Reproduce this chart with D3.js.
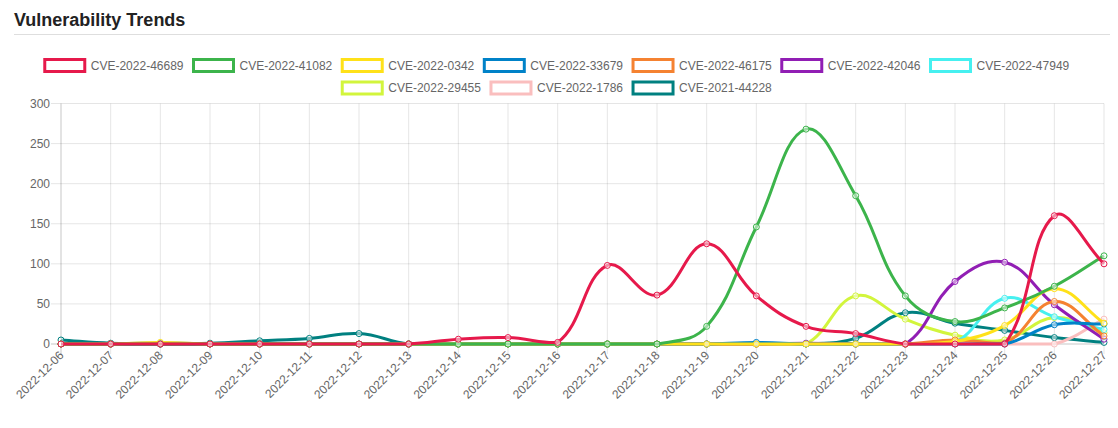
<!DOCTYPE html>
<html>
<head>
<meta charset="utf-8">
<script src="https://cdn.jsdelivr.net/npm/d3@7/dist/d3.min.js"></script>
<style>
  html, body { margin: 0; padding: 0; background: #fff; }
  svg { display: block; }
</style>
</head>
<body>
<svg id="chart" width="1118" height="428"></svg>
<script>
// ---------- DATA ----------
const dates = ["2022-12-06","2022-12-07","2022-12-08","2022-12-09","2022-12-10","2022-12-11","2022-12-12","2022-12-13","2022-12-14","2022-12-15","2022-12-16","2022-12-17","2022-12-18","2022-12-19","2022-12-20","2022-12-21","2022-12-22","2022-12-23","2022-12-24","2022-12-25","2022-12-26","2022-12-27"];
const seriesNames = ["CVE-2022-46689","CVE-2022-41082","CVE-2022-0342","CVE-2022-33679","CVE-2022-46175","CVE-2022-42046","CVE-2022-47949","CVE-2022-29455","CVE-2022-1786","CVE-2021-44228"];
const seriesColors = ["#e6194b","#3cb44b","#ffe119","#0082c8","#f58231","#911eb4","#46f0f0","#d2f53c","#fabebe","#008080"];
const cve_2022_46689 = [0,0,0,0,0,0,0,0,6,8,2,98,61,125,60,22,13,0,0,0,160,100];
const cve_2022_41082 = [0,0,0,0,0,0,0,0,0,0,0,0,0,22,146,268,185,60,28,45,72,110];
const cve_2022_0342  = [0,0,2,0,0,0,0,0,0,0,0,0,0,0,0,0,0,0,3,23,69,26];
const cve_2022_33679 = [0,0,0,0,0,0,0,0,0,0,0,0,0,0,2,0,0,0,0,0,24,25];
const cve_2022_46175 = [0,0,0,0,0,0,0,0,0,0,0,0,0,0,0,0,0,0,5,1,53,10];
const cve_2022_42046 = [0,0,0,0,0,0,0,0,0,0,0,0,0,0,0,1,0,0,78,102,49,6];
const cve_2022_47949 = [0,0,0,0,0,0,0,0,0,0,0,0,0,0,0,0,0,0,2,57,34,18];
const cve_2022_29455 = [0,0,0,0,0,0,0,0,0,0,0,0,0,0,0,0,60,31,11,5,33,14];
const cve_2022_1786  = [0,0,0,0,0,0,0,0,0,0,0,0,0,0,0,0,0,0,0,0,0,31];
const cve_2021_44228 = [5,1,1,1,4,7,13,0,0,0,0,0,0,0,0,0,7,39,26,17,8,2];
const seriesValues = [cve_2022_46689,cve_2022_41082,cve_2022_0342,cve_2022_33679,cve_2022_46175,cve_2022_42046,cve_2022_47949,cve_2022_29455,cve_2022_1786,cve_2021_44228];
const yTicks = [0,50,100,150,200,250,300];
const titleText = "Vulnerability Trends";

// ---------- LAYOUT ----------
const FONT = "'Helvetica Neue', Helvetica, Arial, 'Liberation Sans', sans-serif";
const svg = d3.select("#chart");
const area = { left: 61, right: 1104, top: 103.5, bottom: 344 };

const x = d3.scalePoint().domain(dates).range([area.left, area.right]);
const y = d3.scaleLinear().domain([0, 300]).range([area.bottom, area.top]);

// Title + divider
svg.append("text")
  .attr("x", 14).attr("y", 25.5)
  .attr("font-family", FONT).attr("font-weight", "bold").attr("font-size", 18)
  .attr("fill", "#222").text(titleText);
svg.append("line")
  .attr("x1", 14).attr("x2", 1110).attr("y1", 34.5).attr("y2", 34.5)
  .attr("stroke", "#dedede").attr("stroke-width", 1);

// ---------- LEGEND ----------
const legend = svg.append("g").attr("font-family", FONT).attr("font-size", 12);
const items = seriesNames.map((name, i) => {
  const g = legend.append("g");
  g.append("rect").attr("width", 40).attr("height", 12)
    .attr("fill", "#fff").attr("stroke", seriesColors[i]).attr("stroke-width", 3);
  const t = g.append("text").attr("x", 46).attr("y", 6).attr("dy", "0.35em")
    .attr("fill", "#666").text(name);
  const w = 46 + t.node().getComputedTextLength();
  return { g, w };
});
const maxW = 1080, pad = 10;
const rows = [[]];
let cur = 0;
items.forEach(it => {
  if (cur + it.w + pad > maxW && rows[rows.length - 1].length) { rows.push([]); cur = 0; }
  rows[rows.length - 1].push(it); cur += it.w + pad;
});
const legendCenter = 557;
rows.forEach((row, r) => {
  const total = d3.sum(row, d => d.w) + pad * (row.length - 1);
  let lx = legendCenter - total / 2;
  row.forEach(it => {
    it.g.attr("transform", `translate(${lx},${59.5 + r * 22.5})`);
    lx += it.w + pad;
  });
});

// ---------- GRID & AXES ----------
const grid = svg.append("g");
yTicks.forEach(v => {
  grid.append("line")
    .attr("x1", area.left - 10).attr("x2", area.right)
    .attr("y1", y(v)).attr("y2", y(v))
    .attr("stroke", v === 0 ? "rgba(0,0,0,0.22)" : "rgba(0,0,0,0.1)").attr("stroke-width", 1);
});
dates.forEach((d, i) => {
  grid.append("line")
    .attr("x1", x(d)).attr("x2", x(d))
    .attr("y1", area.top).attr("y2", area.bottom + 10)
    .attr("stroke", i === 0 ? "rgba(0,0,0,0.22)" : "rgba(0,0,0,0.1)").attr("stroke-width", 1);
});

const yAxis = d3.axisLeft(y).tickValues(yTicks).tickSize(0).tickPadding(11);
svg.append("g").attr("transform", `translate(${area.left},0)`).call(yAxis)
  .call(g => g.select(".domain").remove())
  .call(g => g.selectAll("text").attr("font-family", FONT).attr("font-size", 12).attr("fill", "#666"));

const xAxis = d3.axisBottom(x).tickSize(0).tickPadding(0);
svg.append("g").attr("transform", `translate(0,${area.bottom})`).call(xAxis)
  .call(g => g.select(".domain").remove())
  .call(g => g.selectAll("text")
    .attr("font-family", FONT).attr("font-size", 12).attr("fill", "#666")
    .attr("text-anchor", "end").attr("dy", "0.35em").attr("y", 0)
    .attr("transform", "translate(0,9) rotate(-45)"));

// ---------- LINES (Chart.js-style spline, tension 0.4, capped) ----------
function splineCurve(p0, p1, p2, t) {
  const d01 = Math.hypot(p1[0] - p0[0], p1[1] - p0[1]);
  const d12 = Math.hypot(p2[0] - p1[0], p2[1] - p1[1]);
  let s01 = d01 / (d01 + d12), s12 = d12 / (d01 + d12);
  if (isNaN(s01)) s01 = 0; if (isNaN(s12)) s12 = 0;
  const fa = t * s01, fb = t * s12;
  return {
    prev: [p1[0] - fa * (p2[0] - p0[0]), p1[1] - fa * (p2[1] - p0[1])],
    next: [p1[0] + fb * (p2[0] - p0[0]), p1[1] + fb * (p2[1] - p0[1])]
  };
}
const cap = (p) => [Math.max(area.left, Math.min(area.right, p[0])), Math.max(area.top, Math.min(area.bottom, p[1]))];

function buildPath(vals) {
  const pts = vals.map((v, i) => [x(dates[i]), y(v)]);
  const cps = pts.map((p, i) => {
    const c = splineCurve(pts[i - 1] || p, p, pts[i + 1] || p, 0.4);
    return { prev: cap(c.prev), next: cap(c.next) };
  });
  const path = d3.path();
  path.moveTo(pts[0][0], pts[0][1]);
  for (let i = 1; i < pts.length; i++) {
    path.bezierCurveTo(cps[i - 1].next[0], cps[i - 1].next[1], cps[i].prev[0], cps[i].prev[1], pts[i][0], pts[i][1]);
  }
  return { d: path.toString(), pts };
}

const plot = svg.append("g");
// Chart.js draws the last dataset first, so the first ends on top
for (let s = seriesValues.length - 1; s >= 0; s--) {
  const { d } = buildPath(seriesValues[s]);
  const g = plot.append("g");
  g.append("path").attr("d", d).attr("fill", "none")
    .attr("stroke", seriesColors[s]).attr("stroke-width", 3)
    .attr("stroke-linejoin", "round").attr("stroke-linecap", "butt");
  g.selectAll("circle").data(seriesValues[s]).join("circle")
    .attr("cx", (v, i) => x(dates[i])).attr("cy", v => y(v)).attr("r", 3)
    .attr("fill", "rgba(255,255,255,0.5)")
    .attr("stroke", seriesColors[s]).attr("stroke-width", 1);
}
</script>
</body>
</html>
